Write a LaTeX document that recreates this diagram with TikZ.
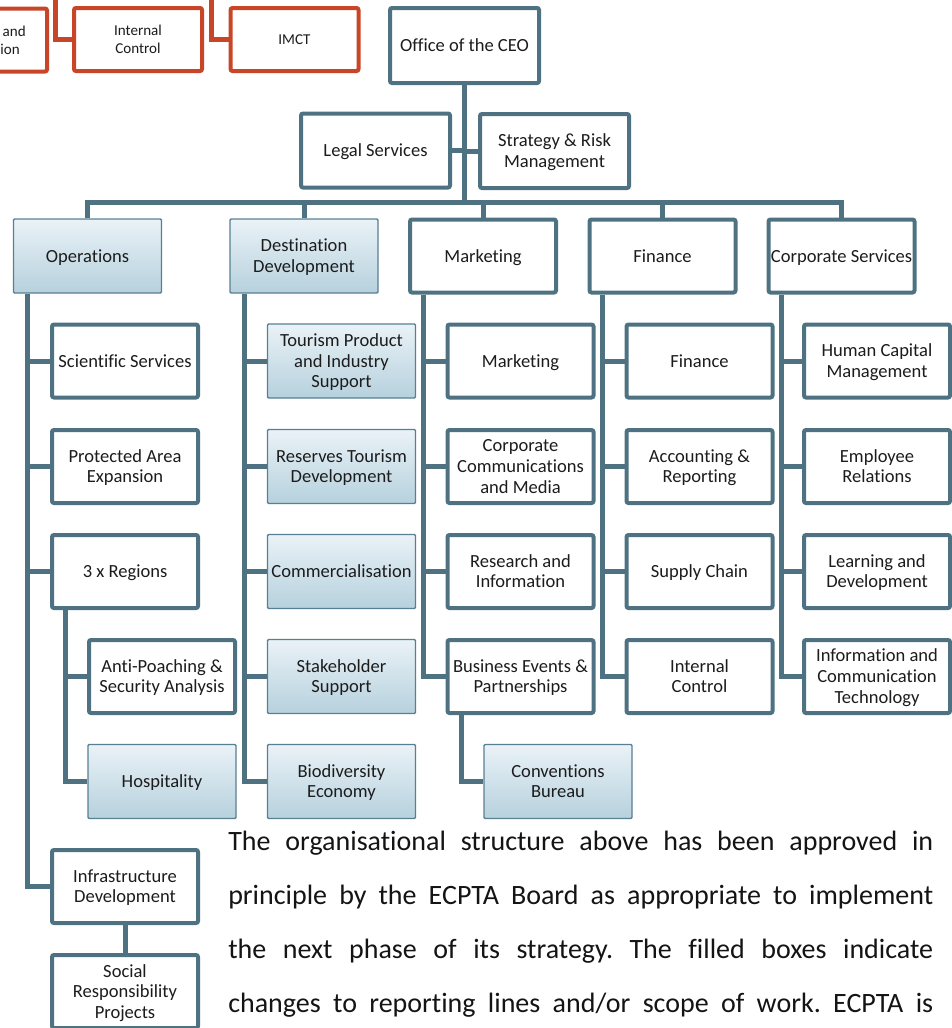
\documentclass[tikz,border=0pt]{standalone}
\usepackage{fontspec}
\setmainfont{Carlito}[Ligatures=NoCommon]
\usetikzlibrary{calc}
\definecolor{lnc}{RGB}{78,114,129}
\definecolor{flc}{RGB}{88,128,146}
\definecolor{gtop}{RGB}{234,242,247}
\definecolor{gbot}{RGB}{182,209,221}
\definecolor{redc}{RGB}{201,69,40}
\definecolor{txc}{RGB}{28,28,28}
\newcommand\bxfont{\fontsize{13.9pt}{15.4pt}\selectfont}
\newcommand\rdfont{\fontsize{11.3pt}{13.5pt}\selectfont}
\newcommand\pafont{\fontsize{21pt}{40pt}\selectfont}
\newcommand\bxstrut{\rule{0pt}{0.9em}\rule[-0.25em]{0pt}{0.25em}}
\newcommand\ml{\rule{0pt}{0.9em}}
\frenchspacing
\begin{document}
\begin{tikzpicture}[x=0.75pt,y=-0.75pt,
 boxbase/.style={inner sep=0pt, align=center, text=txc, font=\bxfont, execute at begin node=\bxstrut, execute at end node=\bxstrut},
 thickbox/.style={boxbase, draw=lnc, line width=3pt, fill=white, rounded corners=1.5pt, minimum width=109.5pt, minimum height=54.75pt},
 bigbox/.style={thickbox, minimum width=111.75pt, minimum height=56pt},
 fillbox/.style={boxbase, draw=flc, line width=1.1pt, top color=gtop, bottom color=gbot, rounded corners=0.8pt, minimum width=111pt, minimum height=55.5pt},
 redbox/.style={boxbase, font=\rdfont, draw=redc, line width=3pt, fill=white, rounded corners=1.5pt, minimum width=96pt, minimum height=47.25pt},
 conn/.style={draw=lnc, line width=3.75pt},
 redconn/.style={draw=redc, line width=3.75pt},
 para/.style={inner sep=0pt, anchor=base west, text=black!92, font=\pafont}]
\useasboundingbox (0,0) rectangle (952,1028);
\clip (0,0) rectangle (952,1028);
\fill[white] (0,0) rectangle (952,1028);

% red top row
\node[redbox] (rpart) at (-17,40) {};
\node[inner sep=0pt, align=right, font=\rdfont, text=txc, anchor=east, execute at begin node=\bxstrut, execute at end node=\bxstrut] (rpartt) at (26,40.5) {\ml and\\tion\hspace*{4.5pt}};
\node[redbox] (ric) at (138,39.5) {\ml Internal\\Control};
\node[redbox] (imct) at (294.5,39.5) {IMCT};
\coordinate (rtop1) at (55.5,-10);
\coordinate (rtop2) at (211.5,-10);
\draw[redconn] (rtop1) |- (ric.west);
\draw[redconn] (rtop2) |- (imct.west);

% top
\node[bigbox, minimum height=56.25pt] (ceo) at (464.5,45.5) {Office of the CEO};
\node[bigbox, minimum height=55.5pt] (legal) at (375.5,150.5) {Legal Services};
\node[bigbox, minimum height=55.5pt] (strat) at (554.5,151) {\ml Strategy \& Risk\\Management};

% level 2
\node[fillbox] (ops) at (87.5,256) {Operations};
\node[fillbox] (dd) at (304,256) {\ml Destination\\Development};
\node[thickbox] (mkt) at (483,256) {Marketing};
\node[thickbox] (fin) at (662.5,256) {Finance};
\node[thickbox] (cs) at (841.5,256) {Corporate Services};

% operations column
\node[thickbox] (sci) at (125,361) {Scientific Services};
\node[thickbox] (pae) at (125,466.5) {\ml Protected Area\\Expansion};
\node[thickbox] (reg) at (125,571.5) {3 x Regions};
\node[thickbox] (anti) at (162,676.5) {\ml Anti-Poaching \&\\Security Analysis};
\node[fillbox] (hosp) at (162,781.5) {Hospitality};
\node[thickbox] (infra) at (125,886.5) {\ml Infrastructure\\Development};
\node[thickbox] (social) at (125,991.5) {\ml Social\\Responsibility\\Projects};

% destination development column
\node[fillbox] (tour) at (341.5,361) {\ml Tourism Product\\and Industry\\Support};
\node[fillbox] (rtd) at (341.5,466.5) {\ml Reserves Tourism\\Development};
\node[fillbox] (comm) at (341.5,571.5) {Commercialisation};
\node[fillbox] (stake) at (341.5,676.5) {\ml Stakeholder\\Support};
\node[fillbox] (bio) at (341.5,781.5) {\ml Biodiversity\\Economy};

% marketing column
\node[thickbox] (mk) at (520.5,361) {Marketing};
\node[thickbox] (ccm) at (520.5,466.5) {\ml Corporate\\Communications\\and Media};
\node[thickbox] (ri) at (520.5,571.5) {\ml Research and\\Information};
\node[thickbox] (be) at (520.5,676.5) {\ml Business Events \&\\Partnerships};
\node[fillbox] (conv) at (558,781.5) {\ml Conventions\\Bureau};

% finance column
\node[thickbox] (fi) at (699.5,361) {Finance};
\node[thickbox] (ar) at (699.5,466.5) {\ml Accounting \&\\Reporting};
\node[thickbox] (sc) at (699.5,571.5) {Supply Chain};
\node[thickbox] (ic) at (699.5,676.5) {\ml Internal\\Control};

% corporate services column
\node[thickbox] (hc) at (877,361) {\ml Human Capital\\Management};
\node[thickbox] (er) at (877,466.5) {\ml Employee\\Relations};
\node[thickbox] (ld) at (877,571.5) {\ml Learning and\\Development};
\node[thickbox] (ict) at (877,676.5) {\ml Information and\\Communication\\Technology};

% connectors top
\coordinate (bus) at (464.5,202);
\draw[conn] (ceo.south) -- (bus);
\draw[conn] (legal.east) -- (legal.east -| ceo.south);
\draw[conn] (strat.west) -- (strat.west -| ceo.south);
\draw[conn] (ops.north) |- (bus) -| (cs.north);
\draw[conn] (dd.north) -- (dd.north |- bus);
\draw[conn] (mkt.north) -- (mkt.north |- bus);
\draw[conn] (fin.north) -- (fin.north |- bus);

% operations
\coordinate (opsT) at ($(ops.south west)+(15,0)$);
\draw[conn] (opsT) |- (infra.west);
\draw[conn] (sci.west) -- (sci.west -| opsT);
\draw[conn] (pae.west) -- (pae.west -| opsT);
\draw[conn] (reg.west) -- (reg.west -| opsT);
\coordinate (regT) at ($(reg.south west)+(15,0)$);
\draw[conn] (regT) |- (hosp.west);
\draw[conn] (anti.west) -- (anti.west -| regT);
\draw[conn] (infra.south) -- (social.north);

% destination development
\coordinate (ddT) at ($(dd.south west)+(15,0)$);
\draw[conn] (ddT) |- (bio.west);
\draw[conn] (tour.west) -- (tour.west -| ddT);
\draw[conn] (rtd.west) -- (rtd.west -| ddT);
\draw[conn] (comm.west) -- (comm.west -| ddT);
\draw[conn] (stake.west) -- (stake.west -| ddT);

% marketing
\coordinate (mkT) at ($(mkt.south west)+(15,0)$);
\draw[conn] (mkT) |- (be.west);
\draw[conn] (mk.west) -- (mk.west -| mkT);
\draw[conn] (ccm.west) -- (ccm.west -| mkT);
\draw[conn] (ri.west) -- (ri.west -| mkT);
\coordinate (beT) at ($(be.south west)+(16,0)$);
\draw[conn] (beT) |- (conv.west);

% finance
\coordinate (finT) at ($(fin.south west)+(15,0)$);
\draw[conn] (finT) |- (ic.west);
\draw[conn] (fi.west) -- (fi.west -| finT);
\draw[conn] (ar.west) -- (ar.west -| finT);
\draw[conn] (sc.west) -- (sc.west -| finT);

% corporate services
\coordinate (csT) at ($(cs.south west)+(15,0)$);
\draw[conn] (csT) |- (ict.west);
\draw[conn] (hc.west) -- (hc.west -| csT);
\draw[conn] (er.west) -- (er.west -| csT);
\draw[conn] (ld.west) -- (ld.west -| csT);

% paragraph
\node[para] (p1) at (228,850) {\makebox[528.75pt][s]{The organisational structure above has been approved in}};
\node[para] (p2) at (228,904) {\makebox[528.75pt][s]{principle by the ECPTA Board as appropriate to implement}};
\node[para] (p3) at (228,958) {\makebox[528.75pt][s]{the next phase of its strategy. The filled boxes indicate}};
\node[para] (p4) at (228,1012) {\makebox[528.75pt][s]{changes to reporting lines and/or scope of work. ECPTA is}};
\end{tikzpicture}
\end{document}
